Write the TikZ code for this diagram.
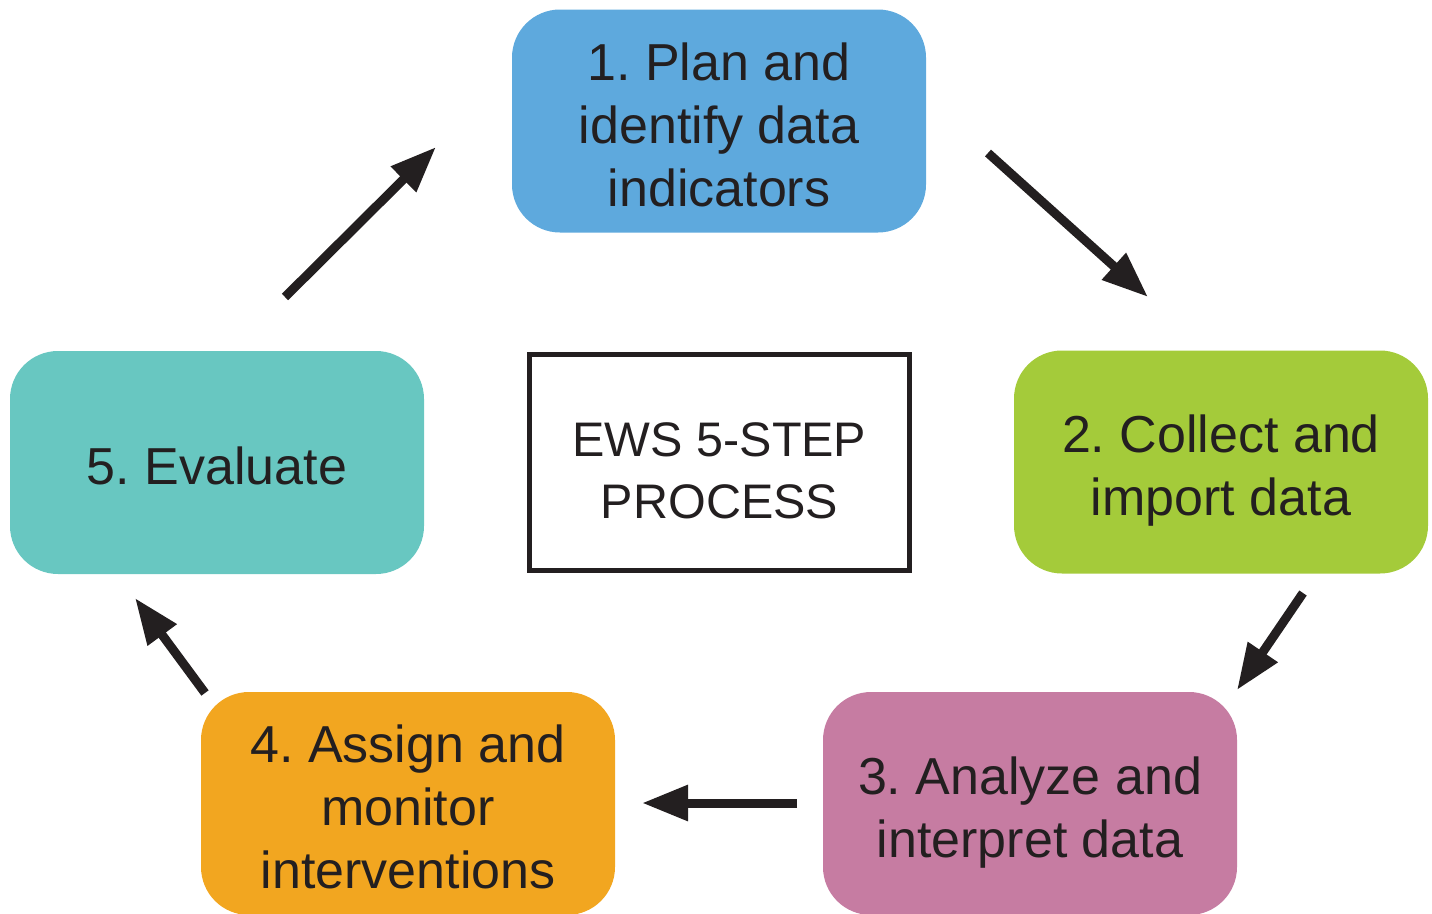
\documentclass[tikz,border=0pt]{standalone}
\usepackage{fontspec}
\setmainfont{Liberation Sans}
\usetikzlibrary{arrows.meta}
\frenchspacing
\definecolor{ink}{HTML}{231F20}
\definecolor{cblue}{RGB}{94,169,221}
\definecolor{cgreen}{RGB}{164,203,58}
\definecolor{cpink}{RGB}{198,124,162}
\definecolor{corange}{RGB}{242,166,32}
\definecolor{cteal}{RGB}{104,199,193}
\newcommand\toprule[1]{\rule{0pt}{#1}}
\begin{document}
\begin{tikzpicture}[x=1pt,y=-1pt,
  stepbox/.style={rectangle, rounded corners=48pt, minimum width=414pt, minimum height=223pt,
    inner sep=0pt, align=center, text=ink, font=\frenchspacing\fontsize{52}{63}\selectfont, text depth=0pt},
  titlebox/.style={rectangle, draw=ink, fill=white, line width=5pt, minimum width=380pt,
    minimum height=216pt, inner sep=0pt, align=center, text=ink,
    font=\frenchspacing\fontsize{48.5}{62}\selectfont, text depth=0pt},
  flow/.style={draw=ink, line width=9pt, -{Triangle[length=46pt,width=34pt]}}]
\useasboundingbox (0,0) rectangle (1432,913);

\node[stepbox, fill=cblue]   (b1) at (719,121)   {\toprule{44pt}1. Plan and\\identify data\\indicators};
\node[stepbox, fill=cgreen]  (b2) at (1221,462)  {\toprule{44pt}2. Collect and\\import data};
\node[stepbox, fill=cpink]   (b3) at (1030,803.5) {\toprule{44pt}3. Analyze and\\interpret data};
\node[stepbox, fill=corange] (b4) at (408,803.5)  {\toprule{44pt}4. Assign and\\monitor\\interventions};
\node[stepbox, fill=cteal]   (b5) at (217,462.5)  {\toprule{44pt}5. Evaluate};
\node[titlebox] (c) at (719.5,462.5) {\toprule{50pt}EWS 5-STEP\\PROCESS};

\coordinate (a1s) at (988,153);  \coordinate (a1e) at (1148,297);
\coordinate (a2s) at (1303,593); \coordinate (a2e) at (1237,690);
\coordinate (a3s) at (797,803);  \coordinate (a3e) at (642,803);
\coordinate (a4s) at (205,693);  \coordinate (a4e) at (135,598);
\coordinate (a5s) at (285,297);  \coordinate (a5e) at (436,147);

\draw[flow] (a1s) -- (a1e);
\draw[flow] (a2s) -- (a2e);
\draw[flow] (a3s) -- (a3e);
\draw[flow] (a4s) -- (a4e);
\draw[flow] (a5s) -- (a5e);
\end{tikzpicture}
\end{document}
